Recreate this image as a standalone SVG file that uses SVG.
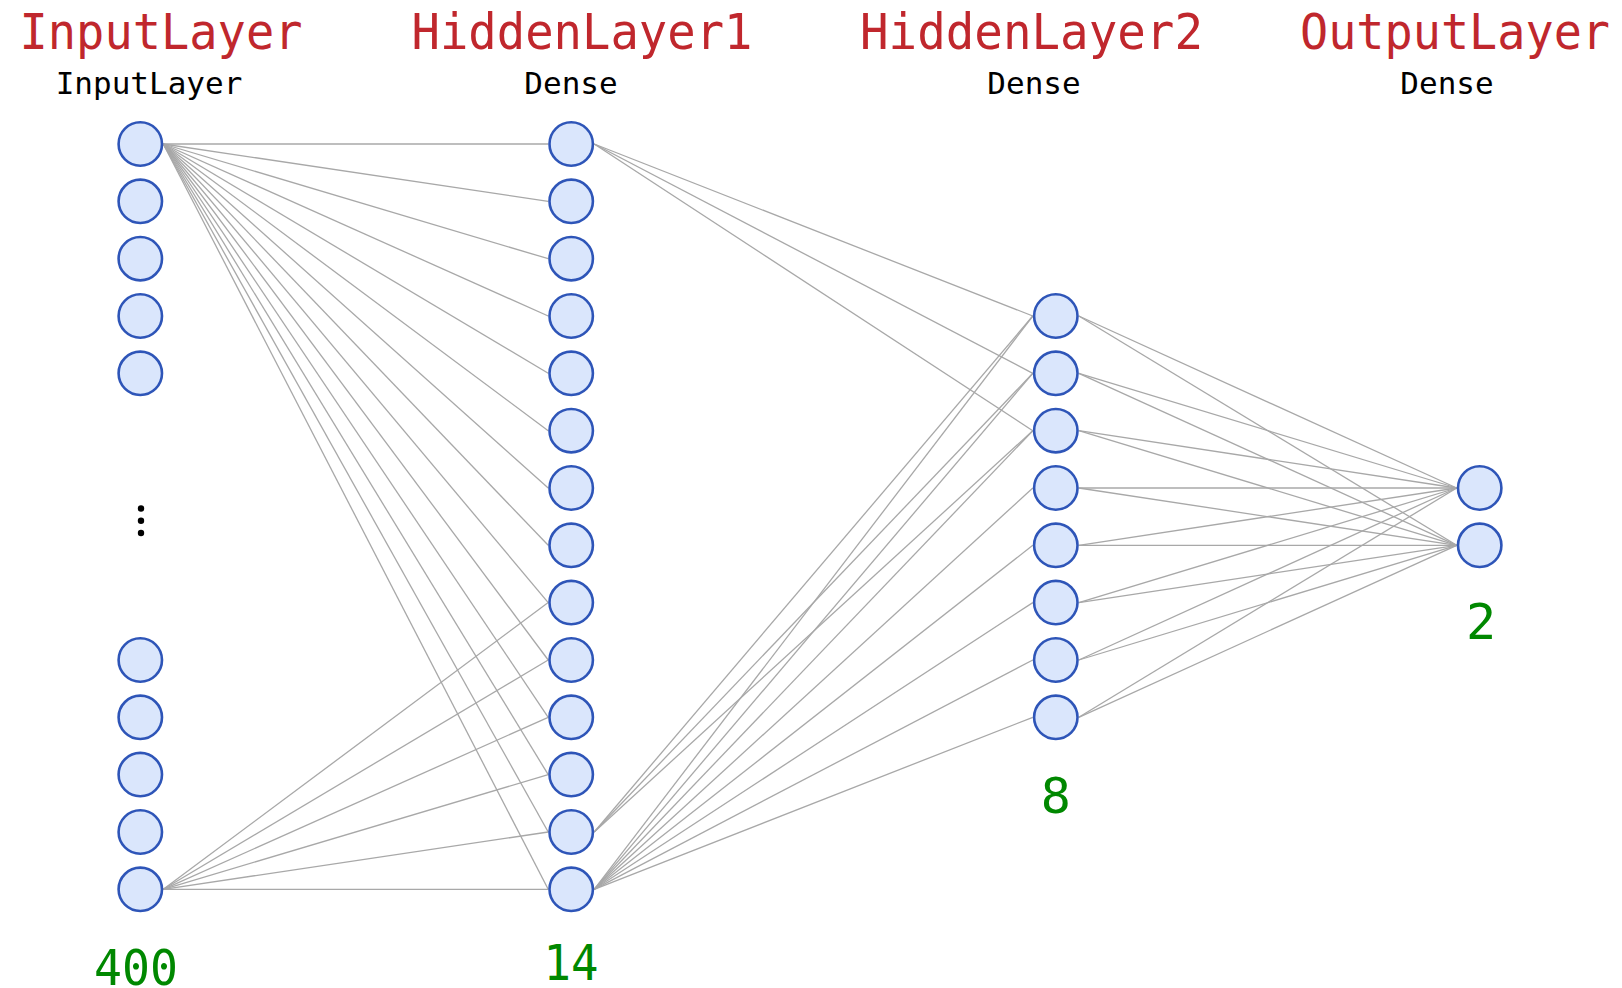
<svg xmlns="http://www.w3.org/2000/svg" width="1622" height="988" viewBox="0 0 1622 988">
  <style>
    .title { font-family: "DejaVu Sans Mono", "Liberation Mono", monospace; font-size: 49px; fill: #c0272d; text-anchor: middle; }
    .kind { font-family: "DejaVu Sans Mono", "Liberation Mono", monospace; font-size: 31px; fill: #000000; text-anchor: middle; }
    .count { font-family: "DejaVu Sans Mono", "Liberation Mono", monospace; font-size: 50px; fill: #008800; text-anchor: middle; }
    .unit { fill: #dae6fc; stroke: #2e55b8; stroke-width: 2.6; }
    .edges line { stroke: #a8a8a8; stroke-width: 1.3; }
    .ellipsis { fill: #000000; }
  </style>
  <rect width="1622" height="988" fill="#ffffff"/>

  <!-- layer headings -->
  <g id="headings">
    <text class="title" x="161" y="49.3" textLength="283" lengthAdjust="spacingAndGlyphs">InputLayer</text>
    <text class="kind" x="149" y="94.3">InputLayer</text>
    <text class="title" x="582" y="49.3" textLength="341" lengthAdjust="spacingAndGlyphs">HiddenLayer1</text>
    <text class="kind" x="571" y="94.3">Dense</text>
    <text class="title" x="1031.5" y="49.3" textLength="343" lengthAdjust="spacingAndGlyphs">HiddenLayer2</text>
    <text class="kind" x="1034" y="94.3">Dense</text>
    <text class="title" x="1455" y="49.3" textLength="310" lengthAdjust="spacingAndGlyphs">OutputLayer</text>
    <text class="kind" x="1447" y="94.3">Dense</text>
  </g>

  <!-- weights between layers -->
  <g id="connectors" class="edges">
    <!-- input unit 0 to every hidden-1 unit -->
    <line x1="163.3" y1="144" x2="548.2" y2="144"/>
    <line x1="163.3" y1="144" x2="548.2" y2="201.3"/>
    <line x1="163.3" y1="144" x2="548.2" y2="258.7"/>
    <line x1="163.3" y1="144" x2="548.2" y2="316"/>
    <line x1="163.3" y1="144" x2="548.2" y2="373.3"/>
    <line x1="163.3" y1="144" x2="548.2" y2="430.7"/>
    <line x1="163.3" y1="144" x2="548.2" y2="488"/>
    <line x1="163.3" y1="144" x2="548.2" y2="545.3"/>
    <line x1="163.3" y1="144" x2="548.2" y2="602.6"/>
    <line x1="163.3" y1="144" x2="548.2" y2="660"/>
    <line x1="163.3" y1="144" x2="548.2" y2="717.3"/>
    <line x1="163.3" y1="144" x2="548.2" y2="774.6"/>
    <line x1="163.3" y1="144" x2="548.2" y2="832"/>
    <line x1="163.3" y1="144" x2="548.2" y2="889.3"/>
    <!-- last input unit to lower hidden-1 units -->
    <line x1="163.3" y1="889.3" x2="548.2" y2="602.6"/>
    <line x1="163.3" y1="889.3" x2="548.2" y2="660"/>
    <line x1="163.3" y1="889.3" x2="548.2" y2="717.3"/>
    <line x1="163.3" y1="889.3" x2="548.2" y2="774.6"/>
    <line x1="163.3" y1="889.3" x2="548.2" y2="832"/>
    <line x1="163.3" y1="889.3" x2="548.2" y2="889.3"/>

    <!-- hidden-1 to hidden-2 -->
    <line x1="594.2" y1="144" x2="1032.8" y2="316"/>
    <line x1="594.2" y1="144" x2="1032.8" y2="373.3"/>
    <line x1="594.2" y1="144" x2="1032.8" y2="430.7"/>
    <line x1="594.2" y1="832" x2="1032.8" y2="316"/>
    <line x1="594.2" y1="832" x2="1032.8" y2="373.3"/>
    <line x1="594.2" y1="832" x2="1032.8" y2="430.7"/>
    <line x1="594.2" y1="889.3" x2="1032.8" y2="316"/>
    <line x1="594.2" y1="889.3" x2="1032.8" y2="373.3"/>
    <line x1="594.2" y1="889.3" x2="1032.8" y2="430.7"/>
    <line x1="594.2" y1="889.3" x2="1032.8" y2="488"/>
    <line x1="594.2" y1="889.3" x2="1032.8" y2="545.3"/>
    <line x1="594.2" y1="889.3" x2="1032.8" y2="602.6"/>
    <line x1="594.2" y1="889.3" x2="1032.8" y2="660"/>
    <line x1="594.2" y1="889.3" x2="1032.8" y2="717.3"/>

    <!-- hidden-2 to output -->
    <line x1="1078.8" y1="316" x2="1456.7" y2="488"/>
    <line x1="1078.8" y1="316" x2="1456.7" y2="545.3"/>
    <line x1="1078.8" y1="373.3" x2="1456.7" y2="488"/>
    <line x1="1078.8" y1="373.3" x2="1456.7" y2="545.3"/>
    <line x1="1078.8" y1="430.7" x2="1456.7" y2="488"/>
    <line x1="1078.8" y1="430.7" x2="1456.7" y2="545.3"/>
    <line x1="1078.8" y1="488" x2="1456.7" y2="488"/>
    <line x1="1078.8" y1="488" x2="1456.7" y2="545.3"/>
    <line x1="1078.8" y1="545.3" x2="1456.7" y2="488"/>
    <line x1="1078.8" y1="545.3" x2="1456.7" y2="545.3"/>
    <line x1="1078.8" y1="602.6" x2="1456.7" y2="488"/>
    <line x1="1078.8" y1="602.6" x2="1456.7" y2="545.3"/>
    <line x1="1078.8" y1="660" x2="1456.7" y2="488"/>
    <line x1="1078.8" y1="660" x2="1456.7" y2="545.3"/>
    <line x1="1078.8" y1="717.3" x2="1456.7" y2="488"/>
    <line x1="1078.8" y1="717.3" x2="1456.7" y2="545.3"/>
  </g>

  <!-- input layer units -->
  <g id="input-layer">
    <circle class="unit" cx="140.3" cy="144" r="21.7"/>
    <circle class="unit" cx="140.3" cy="201.3" r="21.7"/>
    <circle class="unit" cx="140.3" cy="258.7" r="21.7"/>
    <circle class="unit" cx="140.3" cy="316" r="21.7"/>
    <circle class="unit" cx="140.3" cy="373.3" r="21.7"/>
    <circle class="ellipsis" cx="141" cy="508.5" r="3.2"/>
    <circle class="ellipsis" cx="141" cy="520.8" r="3.2"/>
    <circle class="ellipsis" cx="141" cy="533" r="3.2"/>
    <circle class="unit" cx="140.3" cy="660" r="21.7"/>
    <circle class="unit" cx="140.3" cy="717.3" r="21.7"/>
    <circle class="unit" cx="140.3" cy="774.6" r="21.7"/>
    <circle class="unit" cx="140.3" cy="832" r="21.7"/>
    <circle class="unit" cx="140.3" cy="889.3" r="21.7"/>
    <text class="count" x="136" y="985" textLength="84" lengthAdjust="spacingAndGlyphs">400</text>
  </g>

  <!-- first hidden layer units -->
  <g id="hidden-layer-1">
    <circle class="unit" cx="571.2" cy="144" r="21.7"/>
    <circle class="unit" cx="571.2" cy="201.3" r="21.7"/>
    <circle class="unit" cx="571.2" cy="258.7" r="21.7"/>
    <circle class="unit" cx="571.2" cy="316" r="21.7"/>
    <circle class="unit" cx="571.2" cy="373.3" r="21.7"/>
    <circle class="unit" cx="571.2" cy="430.7" r="21.7"/>
    <circle class="unit" cx="571.2" cy="488" r="21.7"/>
    <circle class="unit" cx="571.2" cy="545.3" r="21.7"/>
    <circle class="unit" cx="571.2" cy="602.6" r="21.7"/>
    <circle class="unit" cx="571.2" cy="660" r="21.7"/>
    <circle class="unit" cx="571.2" cy="717.3" r="21.7"/>
    <circle class="unit" cx="571.2" cy="774.6" r="21.7"/>
    <circle class="unit" cx="571.2" cy="832" r="21.7"/>
    <circle class="unit" cx="571.2" cy="889.3" r="21.7"/>
    <text class="count" x="571" y="980" textLength="55" lengthAdjust="spacingAndGlyphs">14</text>
  </g>

  <!-- second hidden layer units -->
  <g id="hidden-layer-2">
    <circle class="unit" cx="1055.8" cy="316" r="21.7"/>
    <circle class="unit" cx="1055.8" cy="373.3" r="21.7"/>
    <circle class="unit" cx="1055.8" cy="430.7" r="21.7"/>
    <circle class="unit" cx="1055.8" cy="488" r="21.7"/>
    <circle class="unit" cx="1055.8" cy="545.3" r="21.7"/>
    <circle class="unit" cx="1055.8" cy="602.6" r="21.7"/>
    <circle class="unit" cx="1055.8" cy="660" r="21.7"/>
    <circle class="unit" cx="1055.8" cy="717.3" r="21.7"/>
    <text class="count" x="1055.8" y="813">8</text>
  </g>

  <!-- output layer units -->
  <g id="output-layer">
    <circle class="unit" cx="1479.7" cy="488" r="21.7"/>
    <circle class="unit" cx="1479.7" cy="545.3" r="21.7"/>
    <text class="count" x="1481" y="639">2</text>
  </g>
</svg>
